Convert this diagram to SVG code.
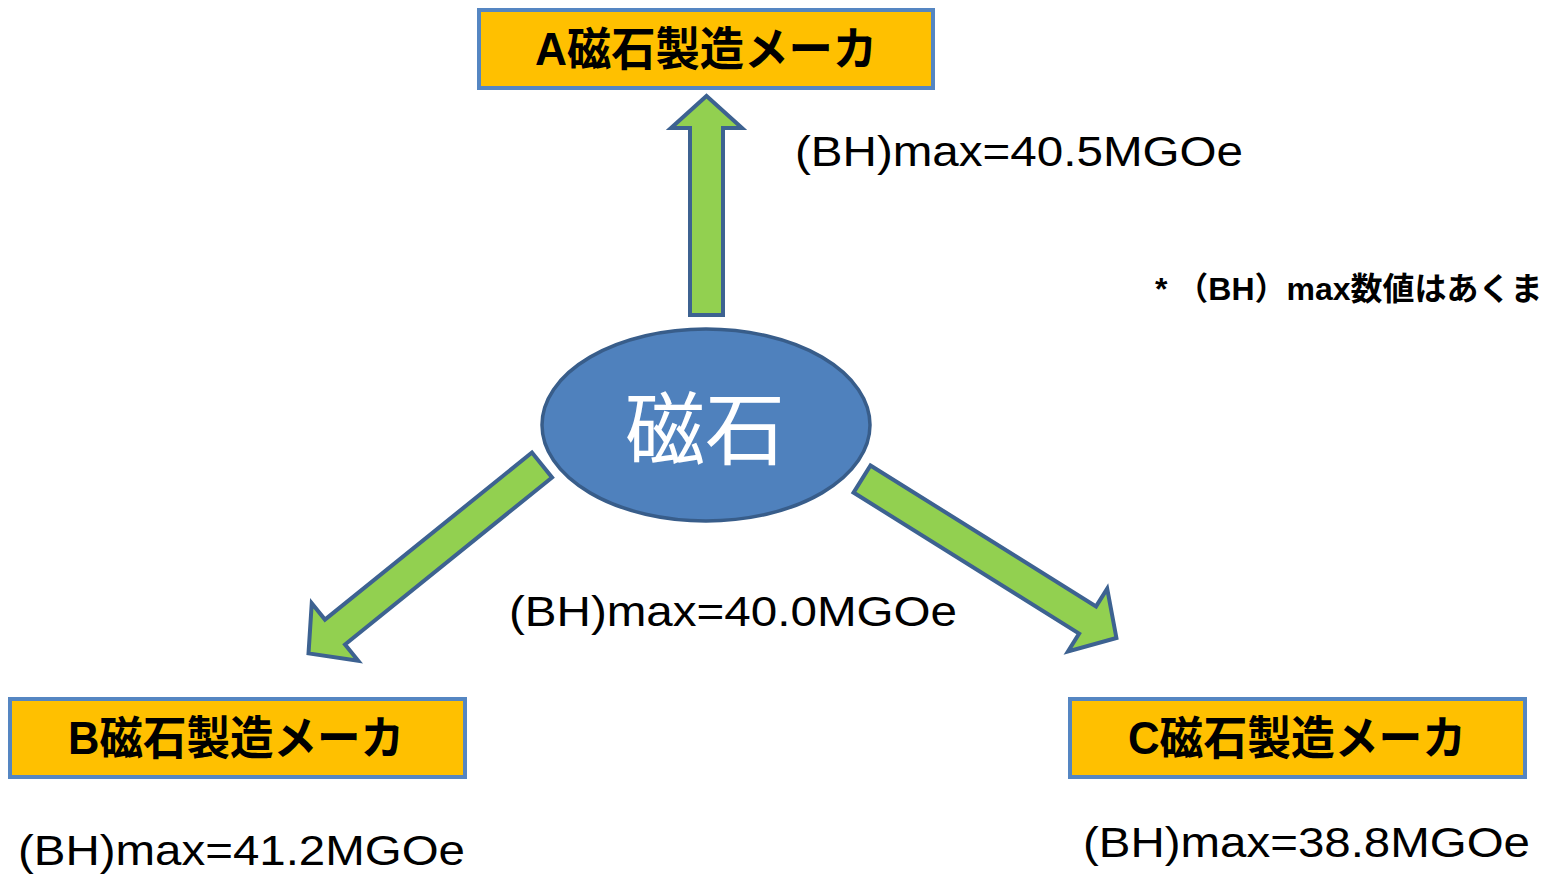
<svg xmlns="http://www.w3.org/2000/svg" width="1541" height="875" viewBox="0 0 1541 875">
<style>
.box{fill:#ffc000;stroke:#5586c2;stroke-width:4}
.btxt{font-family:"Liberation Sans","Noto Sans CJK JP",sans-serif;font-weight:bold;font-size:46px;fill:#000}
.arrow{fill:#92d050;stroke:#3d6291;stroke-width:4;stroke-linejoin:miter}
.val{font-family:"Liberation Sans","Noto Sans CJK JP",sans-serif;font-size:42px;fill:#000}
.note{font-family:"Liberation Sans","Noto Sans CJK JP",sans-serif;font-weight:bold;font-size:32px;fill:#000}
</style>
<defs>
<path id="arrowUp" d="M0,-16.5 L187,-16.5 L187,-35.5 L219,0 L187,35.5 L187,16.5 L0,16.5 Z"/>
<path id="arrowDiag" d="M0,-16 L266,-16 L266,-37 L300,0 L266,37 L266,16 L0,16 Z"/>
</defs>
<rect width="1541" height="875" fill="#ffffff"/>
<g id="connectors">
<use href="#arrowUp" class="arrow" transform="translate(706.5,315) rotate(-90)"/>
<use href="#arrowDiag" class="arrow" transform="translate(542,465) rotate(141.1)"/>
<use href="#arrowDiag" class="arrow" transform="translate(862,479) rotate(32)"/>
</g>
<g id="magnet">
<ellipse cx="706" cy="425" rx="164" ry="96" fill="#4f81bd" stroke="#385d8a" stroke-width="3.5"/>
<text x="705" y="458" text-anchor="middle" font-family="'Noto Sans CJK JP',sans-serif" font-size="80" fill="#ffffff">磁石</text>
</g>
<g id="makerA">
<rect class="box" x="479" y="10" width="454" height="78"/>
<text class="btxt" x="535" y="65" textLength="342" lengthAdjust="spacingAndGlyphs">A磁石製造メーカ</text>
</g>
<g id="makerB">
<rect class="box" x="10" y="699" width="455" height="78"/>
<text class="btxt" x="68" y="754" textLength="336" lengthAdjust="spacingAndGlyphs">B磁石製造メーカ</text>
</g>
<g id="makerC">
<rect class="box" x="1070" y="699" width="455" height="78"/>
<text class="btxt" x="1128" y="754" textLength="338" lengthAdjust="spacingAndGlyphs">C磁石製造メーカ</text>
</g>
<g id="labels">
<text class="val" x="795" y="166" textLength="448" lengthAdjust="spacingAndGlyphs">(BH)max=40.5MGOe</text>
<text class="val" x="509" y="626" textLength="448" lengthAdjust="spacingAndGlyphs">(BH)max=40.0MGOe</text>
<text class="val" x="18" y="865" textLength="447" lengthAdjust="spacingAndGlyphs">(BH)max=41.2MGOe</text>
<text class="val" x="1083" y="857" textLength="447" lengthAdjust="spacingAndGlyphs">(BH)max=38.8MGOe</text>
<text class="note" x="1155" y="300">* （BH）max数値はあくま</text>
</g>
</svg>
